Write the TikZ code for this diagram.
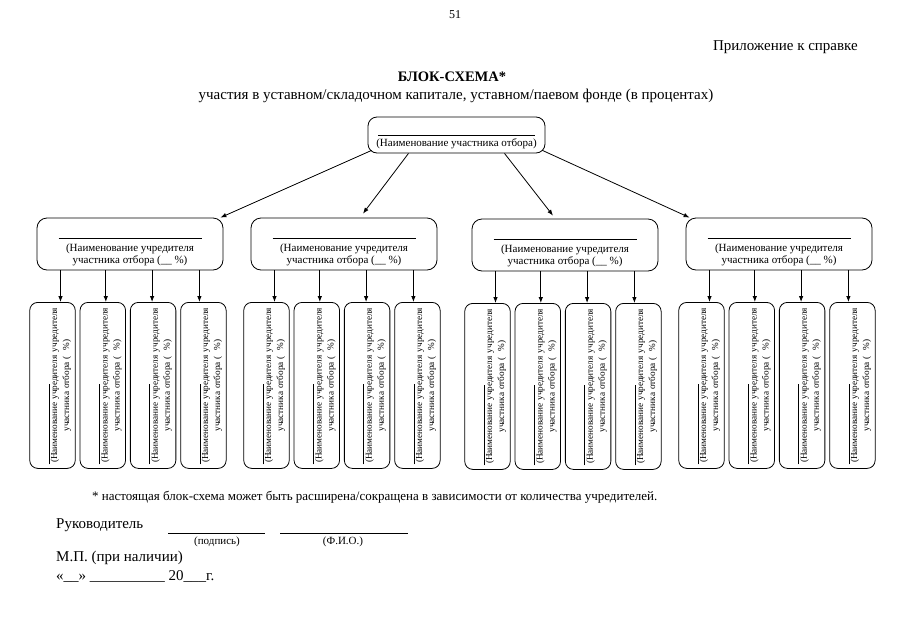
\documentclass[tikz,border=0pt]{standalone}
\usepackage{fontspec}
\setmainfont{Liberation Serif}
\usetikzlibrary{arrows.meta,positioning,calc}

\tikzset{
  unitbox/.style={draw, line width=0.8pt, rounded corners=9pt, minimum width=177pt, minimum height=36pt, inner sep=0pt},
  foundbox/.style={draw, line width=0.8pt, rounded corners=10pt, minimum width=186pt, minimum height=52pt, inner sep=0pt},
  leafbox/.style={draw, line width=0.8pt, rounded corners=8pt, minimum width=45.5pt, minimum height=166pt, inner sep=0pt},
  boxtext/.style={font=\fontsize{11}{12}\selectfont, align=center, inner sep=0pt},
  leaftext/.style={font=\fontsize{9.2}{12}\selectfont, align=center, text width=158pt, rotate=90, inner sep=0pt},
  arr/.style={-{Latex[length=6pt,width=4.5pt]}, line width=0.8pt},
  plain/.style={font=\fontsize{15}{17}\selectfont, inner sep=0pt},
  small/.style={font=\fontsize{11}{13}\selectfont, inner sep=0pt}
}

\begin{document}
\begin{tikzpicture}[x=1pt,y=-1pt]
\useasboundingbox (0,0) rectangle (905,640);

% Header
\node[small, font=\fontsize{12}{14}\selectfont] (pagenum) at (455,15) {51};
\node[plain, anchor=east] (annex) at (858,47) {Приложение к справке};
\node[plain, font=\fontsize{14.5}{17}\selectfont\bfseries] (title) at (452,76.5) {БЛОК-СХЕМА*};
\node[plain] (subtitle) at (456,96) {участия в уставном/складочном капитале, уставном/паевом фонде (в процентах)};

% Participant
\node[unitbox] (unit) at (456.5,135) {};
\node[boxtext] at ($(unit)+(0pt,-7pt)$) {\rule{157pt}{0.4pt}\\[-1pt](Наименование участника отбора)};

% Founders
\node[foundbox] (g1) at (130,244) {};
\node[foundbox] (g2) at (344,244) {};
\node[foundbox] (g3) at (565,245) {};
\node[foundbox] (g4) at (779,244) {};
\foreach \g in {g1,g2,g3,g4}
  \node[boxtext] at ($(\g)+(0pt,-8pt)$) {\rule{143pt}{0.4pt}\\[1pt](Наименование учредителя\\участника отбора (\_\_ \%)};

\draw[arr] ($(unit.south west)+(4pt,3pt)$) -- ($(g1.north east)+(-3pt,0pt)$);
\draw[arr] ($(unit.south)+(-48pt,0pt)$) -- ($(g2.north)+(19pt,4pt)$);
\draw[arr] ($(unit.south)+(48pt,0pt)$) -- ($(g3.north)+(-12pt,3pt)$);
\draw[arr] ($(unit.south east)+(-3pt,3pt)$) -- ($(g4.north west)+(4pt,0pt)$);

% Founders of founders
\foreach \g in {g1,g2,g3,g4} {
  \node[leafbox] (\g-1) at ($(\g.south)+(-77.5pt,-115pt)$) {};
  \node[leafbox, right=4pt of \g-1] (\g-2) {};
  \node[leafbox, right=4pt of \g-2] (\g-3) {};
  \node[leafbox, right=4pt of \g-3] (\g-4) {};
  \foreach \i/\dx in {1/8,2/3,3/-1,4/-4} {
    \node[leaftext] at ($(\g-\i)+(7.5pt,0pt)$) {\rule{80pt}{0.4pt}\hfill\mbox{}\\[-4pt](Наименование учредителя учредителя\\участника отбора (\hspace{6pt}\%)};
    \coordinate (\g-\i-in) at ($(\g-\i.north)+(\dx pt,0pt)$);
    \draw[arr] (\g-\i-in |- \g.south) -- (\g-\i-in);
  }
}

% Footer
\node[font=\fontsize{13}{15}\selectfont, inner sep=0pt, anchor=west] (note) at (92,497) {* настоящая блок-схема может быть расширена/сокращена в зависимости от количества учредителей.};
\node[plain, anchor=west] (head) at (56,525) {Руководитель};
\draw[line width=0.6pt] (168,533) -- (265,533);
\draw[line width=0.6pt] (280,533) -- (408,533);
\node[small] (sign) at (217,542) {(подпись)};
\node[small] (fio) at (343,542) {(Ф.И.О.)};
\node[plain, anchor=west] (seal) at (56,558) {М.П. (при наличии)};
\node[plain, anchor=west] (date) at (56,576) {«\_\_» \_\_\_\_\_\_\_\_\_\_ 20\_\_\_г.};
\end{tikzpicture}
\end{document}
